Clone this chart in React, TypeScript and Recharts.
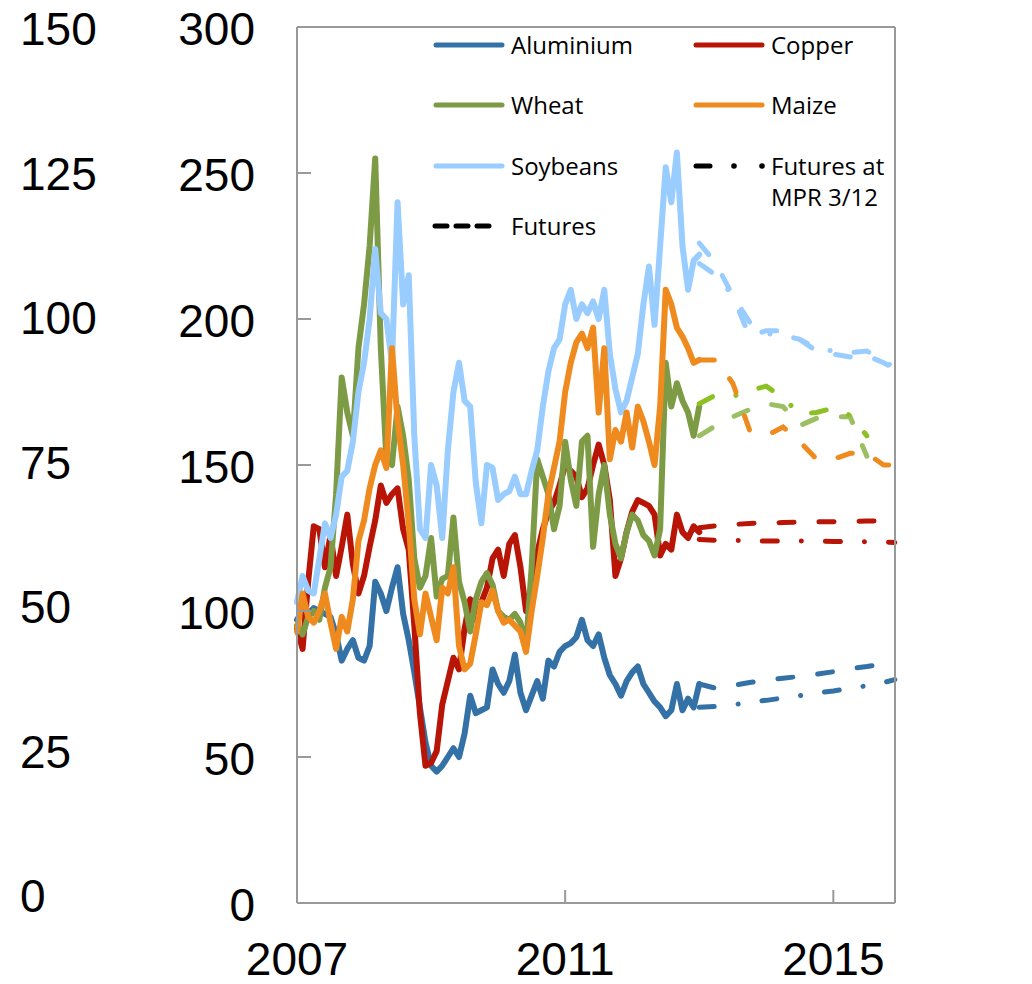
import { LineChart, Line, XAxis, YAxis, ReferenceLine, Legend } from 'recharts';

// monthly history, Jan 2007 - Jan 2013 (index, 2007 = 100)
const histMonths = [
  '2007-01', '2007-02', '2007-03', '2007-04', '2007-05', '2007-06', '2007-07', '2007-08', '2007-09', '2007-10', '2007-11', '2007-12',
  '2008-01', '2008-02', '2008-03', '2008-04', '2008-05', '2008-06', '2008-07', '2008-08', '2008-09', '2008-10', '2008-11', '2008-12',
  '2009-01', '2009-02', '2009-03', '2009-04', '2009-05', '2009-06', '2009-07', '2009-08', '2009-09', '2009-10', '2009-11', '2009-12',
  '2010-01', '2010-02', '2010-03', '2010-04', '2010-05', '2010-06', '2010-07', '2010-08', '2010-09', '2010-10', '2010-11', '2010-12',
  '2011-01', '2011-02', '2011-03', '2011-04', '2011-05', '2011-06', '2011-07', '2011-08', '2011-09', '2011-10', '2011-11', '2011-12',
  '2012-01', '2012-02', '2012-03', '2012-04', '2012-05', '2012-06', '2012-07', '2012-08', '2012-09', '2012-10', '2012-11', '2012-12',
  '2013-01',
];

const aluminium = [
  97, 100, 99, 101, 100, 99, 98, 92, 83, 87, 90, 84,
  83, 88, 110, 106, 100, 108, 115, 99, 90, 79, 67, 55,
  47, 45, 47, 50, 53, 50, 58, 71, 65, 66, 67, 80,
  75, 72, 76, 85, 72, 66, 71, 76, 70, 83, 81, 86,
  88, 89, 91, 97, 90, 88, 92, 84, 78, 75, 71, 76,
  79, 81, 75, 72, 69, 67, 64, 66, 75, 66, 70, 67,
  75,
];
const copper = [
  94, 87, 110, 129, 128, 115, 126, 112, 122, 133, 116, 106,
  112, 122, 131, 143, 137, 140, 142, 128, 121, 95, 65, 47,
  48, 52, 68, 76, 84, 80, 94, 104, 97, 103, 108, 118,
  121, 112, 123, 126, 115, 100, 106, 120, 128, 134, 137, 143,
  150, 148, 146, 139, 142, 150, 157, 150, 138, 112, 118, 127,
  134, 138, 137, 136, 133, 119, 123, 121, 133, 127, 125, 129,
  127,
];
const wheat = [
  95, 92, 98, 100, 97, 108, 115, 140, 180, 168, 160, 190,
  205, 225, 255, 190, 152, 150, 170, 160, 145, 118, 108, 112,
  125, 105, 111, 112, 132, 110, 103, 93, 104, 110, 113, 109,
  100, 98, 97, 99, 96, 88, 115, 152, 146, 140, 128, 136,
  158, 145, 136, 158, 160, 122, 140, 150, 133, 123, 118, 127,
  133, 131, 126, 124, 119, 128, 185, 170, 178, 172, 168, 160,
  170,
];
const maize = [
  93, 106, 98, 96, 100, 106, 96, 87, 98, 93, 104, 124,
  131, 142, 150, 155, 149, 190, 165, 150, 130, 104, 92, 106,
  98, 90, 108, 106, 115, 88, 80, 82, 92, 103, 102, 107,
  100, 96, 97, 95, 93, 86, 100, 112, 125, 140, 149, 158,
  175, 185, 192, 195, 190, 197, 168, 190, 152, 162, 158, 168,
  156, 170, 165, 158, 150, 170, 210, 205, 197, 194, 190, 185,
  186,
];
const soybeans = [
  103, 112, 107, 106, 118, 130, 125, 133, 146, 148, 158, 175,
  185, 200, 224, 202, 200, 185, 240, 205, 215, 160, 128, 125,
  150, 143, 125, 155, 175, 185, 172, 170, 144, 130, 150, 149,
  138, 140, 141, 146, 140, 140, 148, 155, 170, 182, 190, 193,
  205, 210, 200, 205, 202, 206, 200, 210, 188, 176, 168, 172,
  180, 188, 205, 218, 198, 225, 252, 240, 257, 225, 210, 220,
  222,
];

// futures curves
const futMonths = ['2013-01', '2013-04', '2013-07', '2013-10', '2014-01', '2014-04', '2014-07', '2014-10', '2015-01', '2015-04', '2015-07', '2015-10', '2015-12'];

const aluFut = [75, 73.5, 74.5, 75.5, 76.3, 77, 77.6, 78.4, 79.2, 80.3, 81, 81.9, 82.5];
const aluMpr = [67, 67.3, 67.8, 68.8, 69.4, 70.2, 71, 72, 72.6, 73.5, 74.4, 75.5, 76.5];
const copperFut = [128.5, 129.2, 129.6, 130, 130.1, 130.3, 130.4, 130.6, 130.6, 130.7, 130.8, 130.9, 131];
const copperMpr = [124.5, 124.2, 124.2, 124, 124, 124, 124, 123.9, 123.8, 123.8, 123.7, 123.6, 123.5];
const wheatFut = [160, 163.5, 166.5, 169, 171, 170, 163.5, 166, 166.5, 166.5, 153, null, null];
const wheatMpr = [171, 174, 173.5, 175.5, 177, 173, 167.5, 168, 169.5, 167, 160, null, null];
const maizeFut = [186, 186, 178, 162, 160, 163, 158, 152, 152, 154, 154, 150, 150];
const soyFut = [226, 219, 208, 194, 196, 196, 193, 189, 188, 187, 187.5, 185, 183];
const soyMpr = [219, 215, 208, 199, 195, 194.5, 193, 190, 189, 188.5, 189, 186, 183];

const xTicks = [2007, 2011, 2015];
const leftTicks = [0, 50, 100, 150, 200, 250, 300];
// second (outer) scale on the left, same tick positions
const outerTicks = [0, 25, 50, 75, 100, 125, 150];

const C_ALU = '#3371a6';
const C_CU = '#b81507';
const C_WHEAT = '#7d9a45';
const C_WHEAT_MPR = '#8cc124';
const C_WHEAT_FUT = '#9dbf63';
const C_MAIZE = '#ee8a1e';
const C_SOY = '#99ccff';
const AXIS = '#999999';

const DASH = '15 25';
const DASHDOT = '15 24 0.1 24';

const toYear = (s: string) => Number(s.slice(0, 4)) + (Number(s.slice(5, 7)) - 1) / 12;

type Row = { [k: string]: number | null };

const rows: Row[] = histMonths.map((m, i) => ({
  t: toYear(m),
  aluminium: aluminium[i],
  copper: copper[i],
  wheat: wheat[i],
  maize: maize[i],
  soybeans: soybeans[i],
}));
futMonths.forEach((m, i) => {
  const t = toYear(m);
  let row = rows.find((r) => r.t === t);
  if (!row) {
    row = { t };
    rows.push(row);
  }
  row.aluFut = aluFut[i];
  row.aluMpr = aluMpr[i];
  row.copperFut = copperFut[i];
  row.copperMpr = copperMpr[i];
  row.wheatFut = wheatFut[i];
  row.wheatMpr = wheatMpr[i];
  row.maizeFut = maizeFut[i];
  row.soyFut = soyFut[i];
  row.soyMpr = soyMpr[i];
});

const NUM_FONT = '"Liberation Sans", Arial, sans-serif';
const NUM_SIZE = 46;
const PLOT_TOP = 27;

const LeftTick = (props: any) => {
  const { x, y, payload } = props;
  const outer = outerTicks[leftTicks.indexOf(payload.value)];
  const yOuter = PLOT_TOP + (y - PLOT_TOP) * 0.99;
  return (
    <g>
      <line x1={x} x2={x + 14} y1={y} y2={y} stroke={AXIS} strokeWidth={2} />
      <text x={x - 42} y={y + 18} textAnchor="end" fontFamily={NUM_FONT} fontSize={NUM_SIZE} fill="#000">
        {payload.value}
      </text>
      <text x={20} y={yOuter + 18} textAnchor="start" fontFamily={NUM_FONT} fontSize={NUM_SIZE} fill="#000">
        {outer}
      </text>
    </g>
  );
};

const RightTick = (props: any) => {
  const { x, y, payload } = props;
  return (
    <g>
      <line x1={x - 14} x2={x} y1={y} y2={y} stroke={AXIS} strokeWidth={2} />
      <text x={x + 42} y={y + 18} textAnchor="start" fontFamily={NUM_FONT} fontSize={NUM_SIZE} fill="#000">
        {payload.value}
      </text>
    </g>
  );
};

const BottomTick = (props: any) => {
  const { x, y, payload } = props;
  return (
    <g>
      <line x1={x} x2={x} y1={y} y2={y - 13} stroke={AXIS} strokeWidth={2} />
      <text x={x} y={y + 72} textAnchor="middle" fontFamily={NUM_FONT} fontSize={NUM_SIZE} fill="#000">
        {payload.value}
      </text>
    </g>
  );
};

const LEG_FONT = '"Open Sans", sans-serif';
const LEG_SIZE = 24;
const legendItems = [
  { name: 'Aluminium', color: C_ALU, col: 0, row: 0 },
  { name: 'Copper', color: C_CU, col: 1, row: 0 },
  { name: 'Wheat', color: C_WHEAT, col: 0, row: 1 },
  { name: 'Maize', color: C_MAIZE, col: 1, row: 1 },
  { name: 'Soybeans', color: C_SOY, col: 0, row: 2 },
];
const legCols = [434, 694];
const legRows = [45, 105, 166, 226];

const ChartLegend = () => (
  <svg width={1032} height={260} style={{ display: 'block' }}>
    {legendItems.map((it) => {
      const x = legCols[it.col];
      const y = legRows[it.row];
      return (
        <g key={it.name}>
          <line x1={x + 2} x2={x + 68} y1={y} y2={y} stroke={it.color} strokeWidth={5} strokeLinecap="round" />
          <text x={x + 77} y={y + 9} fontFamily={LEG_FONT} fontSize={LEG_SIZE} fill="#000">
            {it.name}
          </text>
        </g>
      );
    })}
    <line x1={legCols[1] + 2} x2={legCols[1] + 16} y1={legRows[2]} y2={legRows[2]} stroke="#000" strokeWidth={5} strokeLinecap="round" />
    <circle cx={legCols[1] + 40} cy={legRows[2]} r={2.8} fill="#000" />
    <circle cx={legCols[1] + 68} cy={legRows[2]} r={2.8} fill="#000" />
    <text x={legCols[1] + 77} y={legRows[2] + 9} fontFamily={LEG_FONT} fontSize={LEG_SIZE} fill="#000">
      Futures at
    </text>
    <text x={legCols[1] + 77} y={legRows[2] + 40} fontFamily={LEG_FONT} fontSize={LEG_SIZE} fill="#000">
      MPR 3/12
    </text>
    <line x1={legCols[0] + 1} x2={legCols[0] + 58} y1={legRows[3]} y2={legRows[3]} stroke="#000" strokeWidth={5} strokeLinecap="round" strokeDasharray="12 9" />
    <text x={legCols[0] + 77} y={legRows[3] + 9} fontFamily={LEG_FONT} fontSize={LEG_SIZE} fill="#000">
      Futures
    </text>
  </svg>
);

const histLine = (key: string, color: string) => (
  <Line
    key={key}
    yAxisId="left"
    dataKey={key}
    stroke={color}
    strokeWidth={6}
    strokeLinejoin="round"
    strokeLinecap="round"
    dot={false}
    activeDot={false}
    legendType="none"
    isAnimationActive={false}
  />
);

const futLine = (key: string, color: string, dash: string) => (
  <Line
    key={key}
    yAxisId="left"
    dataKey={key}
    stroke={color}
    strokeWidth={5}
    strokeDasharray={dash}
    strokeLinecap="round"
    dot={false}
    activeDot={false}
    legendType="none"
    isAnimationActive={false}
  />
);

export default function App() {
  return (
    <div style={{ position: 'absolute', left: 0, top: 0, width: 1032, height: 984, background: '#fff' }}>
      <LineChart width={1032} height={984} data={rows} margin={{ top: PLOT_TOP, right: 0, bottom: 0, left: 0 }}>
        <XAxis
          dataKey="t"
          type="number"
          domain={[2007, 2015.92]}
          ticks={xTicks}
          interval={0}
          height={81}
          tickSize={0}
          tickMargin={0}
          tickLine={false}
          axisLine={{ stroke: AXIS, strokeWidth: 2 }}
          tick={BottomTick}
        />
        <YAxis
          yAxisId="left"
          orientation="left"
          width={297}
          domain={[0, 300]}
          ticks={leftTicks}
          interval={0}
          tickSize={0}
          tickMargin={0}
          tickLine={false}
          axisLine={{ stroke: AXIS, strokeWidth: 2 }}
          tick={LeftTick}
        />
        <YAxis
          yAxisId="right"
          orientation="right"
          width={137}
          domain={[0, 300]}
          ticks={leftTicks}
          interval={0}
          tickSize={0}
          tickMargin={0}
          tickLine={false}
          axisLine={{ stroke: AXIS, strokeWidth: 2 }}
          tick={RightTick}
        />
        <ReferenceLine yAxisId="left" y={300} stroke={AXIS} strokeWidth={2} />
        <Legend
          layout="horizontal"
          verticalAlign="middle"
          align="center"
          content={<ChartLegend />}
          wrapperStyle={{ top: 0, left: 0, width: 1032, height: 260 }}
        />
        {histLine('aluminium', C_ALU)}
        {histLine('copper', C_CU)}
        {histLine('wheat', C_WHEAT)}
        {histLine('soybeans', C_SOY)}
        {histLine('maize', C_MAIZE)}
        {futLine('aluFut', C_ALU, DASH)}
        {futLine('aluMpr', C_ALU, DASHDOT)}
        {futLine('copperFut', C_CU, DASH)}
        {futLine('copperMpr', C_CU, DASHDOT)}
        {futLine('wheatFut', C_WHEAT_FUT, DASH)}
        {futLine('wheatMpr', C_WHEAT_MPR, DASHDOT)}
        {futLine('maizeFut', C_MAIZE, DASH)}
        {futLine('soyFut', C_SOY, DASH)}
        {futLine('soyMpr', C_SOY, DASHDOT)}
      </LineChart>
    </div>
  );
}
